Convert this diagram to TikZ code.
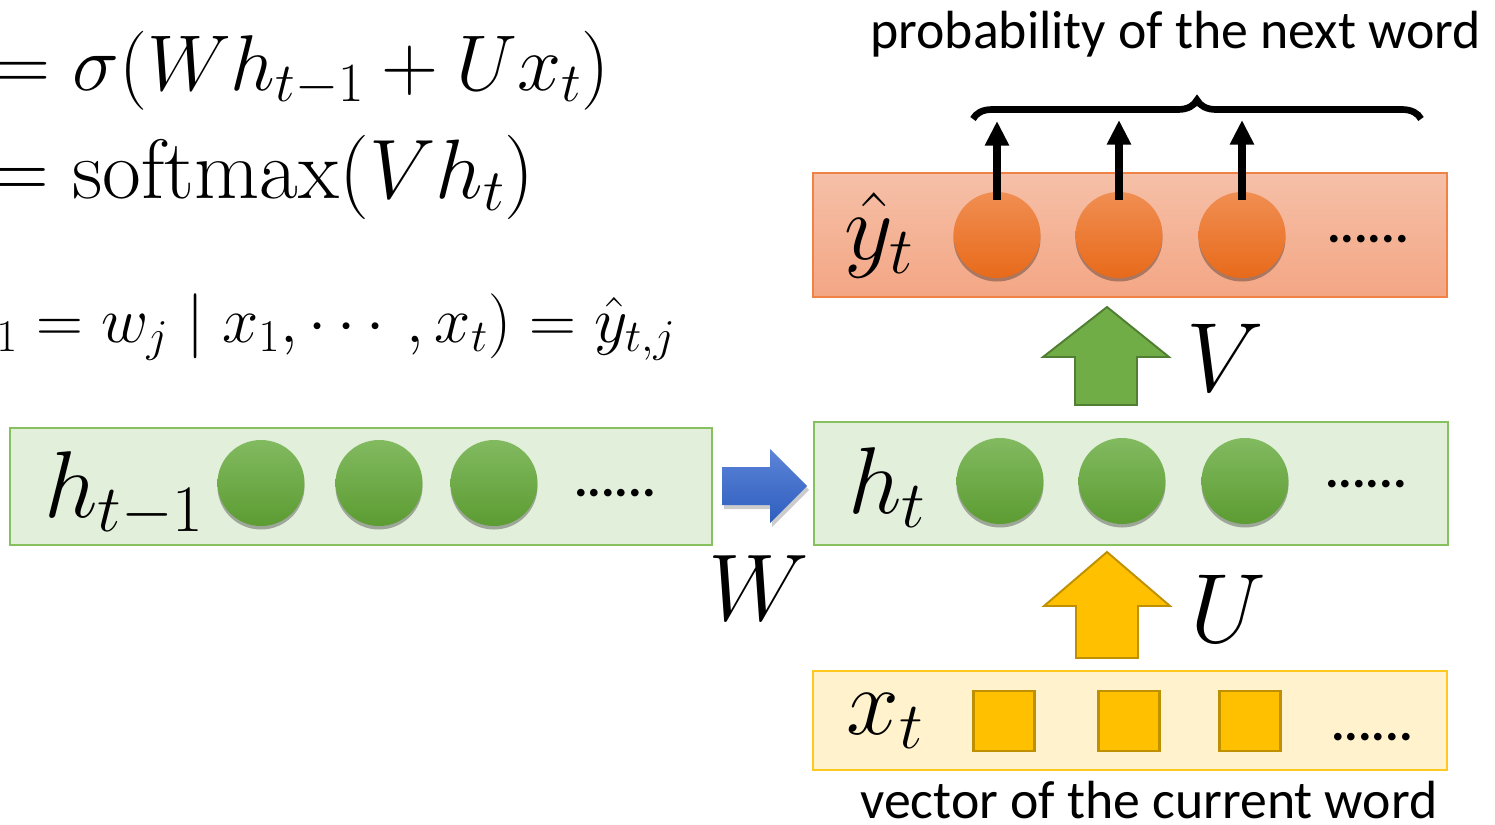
\RequirePackage{fix-cm}
\documentclass[tikz,border=0pt]{standalone}
\usepackage{fontspec}
\newfontfamily\calibri{Carlito}
\usetikzlibrary{shapes.geometric,arrows.meta,decorations.pathreplacing,shadows,fit}
\definecolor{gborder}{RGB}{135,193,95}
\definecolor{gfill}{RGB}{226,239,218}
\definecolor{otop}{RGB}{245,192,168}
\definecolor{obot}{RGB}{244,166,132}
\definecolor{oborder}{RGB}{240,130,70}
\definecolor{octop}{RGB}{240,142,82}
\definecolor{ocbot}{RGB}{232,106,26}
\definecolor{gctop}{RGB}{130,186,96}
\definecolor{gcbot}{RGB}{92,156,50}
\definecolor{yfill}{RGB}{255,242,204}
\definecolor{yborder}{RGB}{255,200,30}
\definecolor{ysq}{RGB}{255,192,0}
\definecolor{ysqb}{RGB}{191,144,0}
\definecolor{garf}{RGB}{112,173,71}
\definecolor{garb}{RGB}{80,126,50}
\definecolor{btop}{RGB}{92,132,216}
\definecolor{bbot}{RGB}{46,94,190}
\tikzset{
  rowbox/.style={inner sep=0pt, line width=0.9pt},
  greenrow/.style={rowbox, draw=gborder, fill=gfill},
  orangerow/.style={rowbox, draw=oborder, top color=otop, bottom color=obot},
  yellowrow/.style={rowbox, draw=yborder, fill=yfill},
  unit/.style={ellipse, inner sep=0pt, minimum width=1.74cm, minimum height=1.72cm,
    drop shadow={shadow xshift=0pt, shadow yshift=-2pt, opacity=0.3, fill=black}},
  gunit/.style={unit, top color=gctop, bottom color=gcbot},
  ounit/.style={unit, top color=octop, bottom color=ocbot},
  xunit/.style={rectangle, inner sep=0pt, minimum width=1.22cm, minimum height=1.2cm,
    fill=ysq, draw=ysqb, line width=1.2pt},
  dots/.style={inner sep=0pt, font=\calibri\bfseries\fontsize{29}{30}\selectfont},
  lab/.style={inner sep=0pt, anchor=base west, font=\fontsize{54}{60}\selectfont},
  eqn/.style={inner sep=0pt, anchor=base west},
  caption/.style={inner sep=0pt, anchor=base west, font=\calibri\fontsize{30.6}{36}\selectfont},
  outarrow/.style={line width=4.6pt, -{Triangle[length=14pt,width=13pt]}},
  bigarrow/.style={line width=1.1pt, line join=miter}
}
\begin{document}
\begin{tikzpicture}[x=0.02cm,y=-0.02cm]
\useasboundingbox (0,0) rectangle (1495,825);
\clip (0,0) rectangle (1495,825);

% equations
\node[eqn, font=\fontsize{45}{54}\selectfont] (eq1) at (-7,90) {$=\sigma(Wh_{t-1}+Ux_t)$};
\node[eqn, font=\fontsize{48}{56}\selectfont] (eq2) at (-12,198) {$=\mathrm{softmax}(Vh_t)$};
\node[eqn, font=\fontsize{37}{44}\selectfont] (eq3) at (-4,342) {${}_1=w_j\mid x_1,\cdots\,,x_t)=\hat{y}_{t,j}$};

% row boxes
\node[greenrow, fit={(10,428) (712,545)}] (hprev) {};
\node[greenrow, fit={(814,422) (1448,545)}] (hcur) {};
\node[orangerow, fit={(813,173) (1447,297)}] (yrow) {};
\node[yellowrow, fit={(813,671) (1447,770)}] (xrow) {};

% h_{t-1} row
\node[lab] (lhp) at (44,517) {$h_{t-1}$};
\node[gunit] (p1) at (261,483) {};
\node[gunit] (p2) at (379,483) {};
\node[gunit] (p3) at (494,483) {};
\node[dots] (dp) at (615,493) {......};

% h_t row
\node[lab] (lh) at (848,513) {$h_t$};
\node[gunit] (h1) at (1000,481) {};
\node[gunit] (h2) at (1122,481) {};
\node[gunit] (h3) at (1245,481) {};
\node[dots] (dh) at (1366,484) {......};

% y row
\node[lab] (ly) at (844,259) {$\hat{y}_t$};
\node[ounit] (o1) at (997,235) {};
\node[ounit] (o2) at (1119,235) {};
\node[ounit] (o3) at (1242,235) {};
\node[dots] (dy) at (1368,239) {......};

% x row
\node[lab] (lx) at (846,734) {$x_t$};
\node[xunit] (s1) at (1004,721) {};
\node[xunit] (s2) at (1129,721) {};
\node[xunit] (s3) at (1250,721) {};
\node[dots] (dx) at (1372,737) {......};

% blue arrow W
\fill[black, opacity=0.2] (724,471) -- (772,471) -- (772,453) -- (809,490) -- (772,527) -- (772,509) -- (724,509) -- cycle;
\shade[top color=btop, bottom color=bbot] (722,467) -- (770,467) -- (770,449) -- (807,486) -- (770,523) -- (770,505) -- (722,505) -- cycle;
\node[lab] (lw) at (708,620) {$W$};

% green arrow V
\filldraw[bigarrow, fill=garf, draw=garb] (1107,307) -- (1169,357) -- (1137,357) -- (1137,405) -- (1075,405) -- (1075,357) -- (1043,357) -- cycle;
\node[lab, font=\fontsize{56}{60}\selectfont] (lv) at (1186,391) {$V$};

% yellow arrow U
\filldraw[bigarrow, fill=ysq, draw=ysqb] (1107,552) -- (1170,606) -- (1138,606) -- (1138,658) -- (1076,658) -- (1076,606) -- (1044,606) -- cycle;
\node[lab, font=\fontsize{56}{60}\selectfont] (lu) at (1190,642) {$U$};

% output arrows and brace
\coordinate (t1) at (997,121);
\coordinate (t2) at (1119,120);
\coordinate (t3) at (1242,120);
\draw[outarrow] ([yshift=-0.16cm]o1.north) -- (t1);
\draw[outarrow] ([yshift=-0.16cm]o2.north) -- (t2);
\draw[outarrow] ([yshift=-0.16cm]o3.north) -- (t3);
\coordinate (b1) at (973,119);
\coordinate (b2) at (1421,119);
\draw[line width=3.8pt, decorate, decoration={brace, amplitude=0.38cm}] (b1) -- (b2);

% captions
\node[caption] (ptext) at (870,48) {probability of the next word};
\node[caption] (vtext) at (860,818) {vector of the current word};
\end{tikzpicture}
\end{document}
